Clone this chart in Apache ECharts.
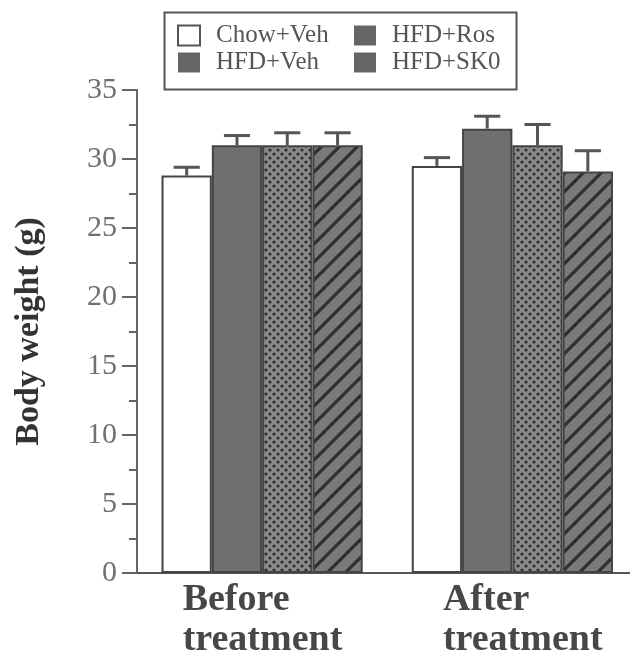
<!DOCTYPE html>
<html>
<head>
<meta charset="utf-8">
<script src="https://cdn.jsdelivr.net/npm/echarts@6/dist/echarts.min.js"></script>
<style>
html,body{margin:0;padding:0;background:#fff;}
#chart{width:630px;height:664px;}
</style>
</head>
<body>
<div id="chart"></div>
<script>
// ---- data ----
const categories = ['Before treatment', 'After treatment'];
const seriesNames = ['Chow+Veh', 'HFD+Veh', 'HFD+Ros', 'HFD+SK0'];
const chowVeh = [28.8, 29.5];
const hfdVeh = [31.0, 32.2];
const hfdRos = [31.0, 31.0];
const hfdSk0 = [31.0, 29.1];
const chowVehErr = [0.6, 0.6];
const hfdVehErr = [0.7, 0.9];
const hfdRosErr = [0.9, 1.5];
const hfdSk0Err = [0.9, 1.5];
const yAxisLabels = ['0', '5', '10', '15', '20', '25', '30', '35'];

// ---- patterns ----
function dotPattern() {
  const c = document.createElement('canvas');
  c.width = 8; c.height = 8;
  const g = c.getContext('2d');
  g.fillStyle = '#8a8a8a';
  g.fillRect(0, 0, 8, 8);
  g.fillStyle = '#2e2e2e';
  [[2, 2], [6, 6]].forEach(function (p) {
    g.beginPath(); g.arc(p[0], p[1], 1.6, 0, Math.PI * 2); g.fill();
  });
  return c;
}
function hatchPattern() {
  const s = 18;
  const c = document.createElement('canvas');
  c.width = s; c.height = s;
  const g = c.getContext('2d');
  g.fillStyle = '#7a7a7a';
  g.fillRect(0, 0, s, s);
  g.strokeStyle = '#2f2f2f';
  g.lineWidth = 3.2;
  [[0, s, s, 0], [-s, s, 0, 0], [s, 2 * s, 2 * s, s], [-s / 2, s / 2, s / 2, -s / 2], [s / 2, 3 * s / 2, 3 * s / 2, s / 2]].forEach(function (l) {
    g.beginPath(); g.moveTo(l[0], l[1]); g.lineTo(l[2], l[3]); g.stroke();
  });
  return c;
}

const values = [chowVeh, hfdVeh, hfdRos, hfdSk0];
const errs = [chowVehErr, hfdVehErr, hfdRosErr, hfdSk0Err];
const fills = [
  '#ffffff',
  '#6f6f6f',
  { image: dotPattern(), repeat: 'repeat' },
  { image: hatchPattern(), repeat: 'repeat' }
];
const gapRatio = 0.196;

const series = [];
seriesNames.forEach(function (name, k) {
  series.push({
    name: name,
    type: 'bar',
    data: values[k],
    barGap: 0,
    barCategoryGap: (gapRatio * 100) + '%',
    itemStyle: { color: fills[k], borderColor: '#444', borderWidth: 2 },
    z: 2
  });
});
seriesNames.forEach(function (name, k) {
  series.push({
    name: 'err' + k,
    type: 'custom',
    data: values[k].map(function (v, i) { return [i, v, errs[k][i]]; }),
    z: 3,
    renderItem: function (params, api) {
      const idx = api.value(0);
      const v = api.value(1);
      const e = api.value(2);
      const band = api.size([1, 0])[0];
      const bw = band * (1 - gapRatio) / 4;
      const off = (k - 1.5) * bw;
      const p0 = api.coord([idx, v]);
      const p1 = api.coord([idx, v + e]);
      const x = p0[0] + off;
      const cap = bw * 0.26;
      return {
        type: 'group',
        children: [
          { type: 'line', shape: { x1: x, y1: p0[1], x2: x, y2: p1[1] }, style: { stroke: '#555', lineWidth: 3 } },
          { type: 'line', shape: { x1: x - cap, y1: p1[1], x2: x + cap, y2: p1[1] }, style: { stroke: '#555', lineWidth: 3 } }
        ]
      };
    }
  });
});

const legendText = { fontFamily: 'Liberation Serif', fontSize: 25, color: '#555', padding: [0, 0, 0, 11] };

const option = {
  backgroundColor: '#ffffff',
  animation: false,
  grid: { left: 137, right: -7.5, top: 90, bottom: 91, outerBoundsMode: 'none', containLabel: false },
  legend: [
    {
      orient: 'vertical', left: 177, top: 23, padding: 0, itemWidth: 22, itemHeight: 20, itemGap: 2,
      icon: 'rect', selectedMode: false, textStyle: legendText,
      data: [
        { name: 'Chow+Veh', itemStyle: { color: '#fff', borderColor: '#555', borderWidth: 2 } },
        { name: 'HFD+Veh', itemStyle: { color: '#666', borderWidth: 0 } }
      ]
    },
    {
      orient: 'vertical', left: 354, top: 23, padding: 0, itemWidth: 22, itemHeight: 20, itemGap: 2,
      icon: 'rect', selectedMode: false, textStyle: legendText,
      data: [
        { name: 'HFD+Ros', itemStyle: { color: '#666', borderWidth: 0 } },
        { name: 'HFD+SK0', itemStyle: { color: '#666', borderWidth: 0 } }
      ]
    }
  ],
  graphic: [
    { type: 'rect', left: 162, top: 10, shape: { width: 352, height: 77 }, style: { fill: 'none', stroke: '#555', lineWidth: 2 } }
  ],
  xAxis: {
    type: 'category',
    data: categories,
    axisLine: { lineStyle: { color: '#555', width: 2 } },
    axisTick: { show: false },
    axisLabel: {
      margin: 7,
      interval: 0,
      formatter: function (val, i) {
        const parts = val.split(' ');
        const key = i === 0 ? 'a' : 'b';
        return '{' + key + '|' + parts[0] + '}\n{' + key + '|' + parts[1] + '}';
      },
      rich: {
        a: { width: 159, align: 'left', fontFamily: 'Liberation Serif', fontWeight: 'bold', fontSize: 38, lineHeight: 40, color: '#474747' },
        b: { width: 139, align: 'left', fontFamily: 'Liberation Serif', fontWeight: 'bold', fontSize: 38, lineHeight: 40, color: '#474747' }
      }
    }
  },
  yAxis: {
    type: 'value',
    min: 0,
    max: 35,
    interval: 5,
    name: 'Body weight (g)',
    nameLocation: 'middle',
    nameGap: 91,
    nameTextStyle: { fontFamily: 'Liberation Serif', fontWeight: 'bold', fontSize: 34, color: '#333' },
    axisLine: { show: true, lineStyle: { color: '#666', width: 2 } },
    axisTick: { show: true, length: 15, lineStyle: { color: '#666', width: 2 } },
    minorTick: { show: true, splitNumber: 2, length: 8, lineStyle: { color: '#666', width: 2 } },
    splitLine: { show: false },
    axisLabel: {
      margin: 20,
      fontFamily: 'Liberation Serif', fontSize: 30, color: '#707070',
      formatter: function (v) { return yAxisLabels[Math.round(v / 5)]; }
    }
  },
  series: series
};

const chart = echarts.init(document.getElementById('chart'), null, { renderer: 'canvas' });
chart.setOption(option);
</script>
</body>
</html>
